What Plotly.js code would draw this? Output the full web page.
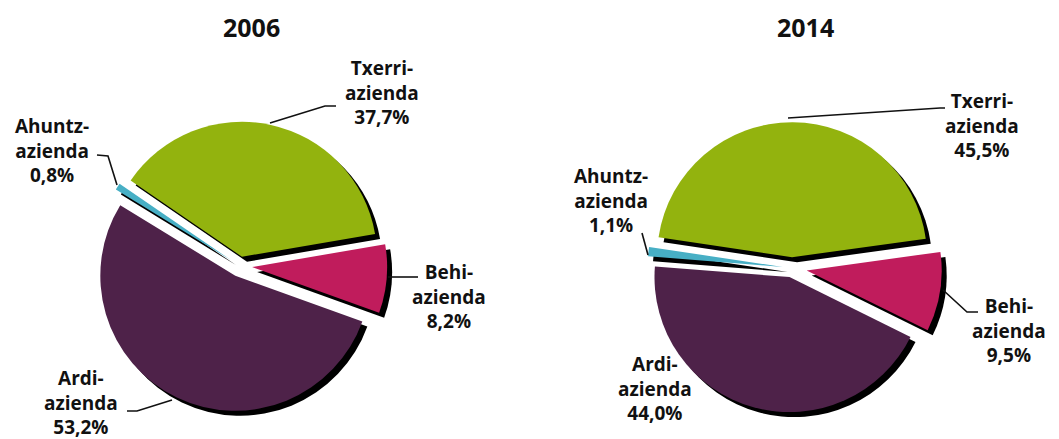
<!DOCTYPE html>
<html>
<head>
<meta charset="utf-8">
<script src="https://cdn.plot.ly/plotly-3.0.1.min.js"></script>
<style>html,body{margin:0;padding:0;background:#fff;}#chart{width:1059px;height:439px;}</style>
</head>
<body>
<div id="chart"></div>
<script>
// ---- data ----
const years = ["2006", "2014"];
const categories = ["Txerri-azienda", "Behi-azienda", "Ardi-azienda", "Ahuntz-azienda"];
const values2006 = [37.7, 8.2, 53.2, 0.8];
const values2014 = [45.5, 9.5, 44.0, 1.1];

// ---- style ----
const W = 1059, H = 439;
const colors = ["#93B30E", "#C01C5C", "#4E2249", "#47AFC5"];
const FONT = {family: "Open Sans, Roboto, sans-serif", size: 19, color: "#111", weight: 700};

const pies = [
  {values: values2006, cx: 240, cy: 266, r: 135, rotation: -55.6, pull: [0.07, 0.09, 0.08, 0.08],
   title: {x: 251, y: 27},
   labels: [{x: 382, y: 92}, {x: 449, y: 296}, {x: 81, y: 402}, {x: 52, y: 150}]},
  {values: values2014, cx: 792, cy: 268, r: 135, rotation: -81.5, pull: [0.08, 0.11, 0.07, 0.07],
   title: {x: 805, y: 27},
   labels: [{x: 982, y: 126}, {x: 1009, y: 330}, {x: 655, y: 388}, {x: 611, y: 200}]}
];

// leader lines, pixel points (decoration)
const leaders = [
  [[270,123],[325,106],[336,106]],
  [[117,185],[108,156],[97,155]],
  [[388,277],[418,277]],
  [[172,400],[137,411],[127,411]],
  [[788,118],[940,108],[945,108]],
  [[648,255],[642,233]],
  [[943,290],[967,312],[978,312]]
];

const px = x => x / W;
const py = y => 1 - y / H;

function fmt(v) { return v.toFixed(1).replace('.', ',') + '%'; }

const traces = [];
const annotations = [];
const shapes = [];
const SH = {dx: 5, dy: 5};

pies.forEach((p, i) => {
  const maxPull = Math.max(...p.pull);
  const s = p.r * (1 + maxPull);
  const dom = (ox, oy) => ({
    x: [px(p.cx - s + ox), px(p.cx + s + ox)],
    y: [py(p.cy + s + oy), py(p.cy - s + oy)]
  });
  const base = {
    type: 'pie', labels: categories, values: p.values, sort: false,
    direction: 'clockwise', rotation: p.rotation, pull: p.pull,
    textinfo: 'none', hoverinfo: 'skip', showlegend: false
  };
  traces.push(Object.assign({}, base, {
    domain: dom(SH.dx, SH.dy),
    marker: {colors: categories.map(() => '#000'), line: {width: 0}}
  }));
  traces.push(Object.assign({}, base, {
    domain: dom(0, 0),
    marker: {colors: colors, line: {width: 0}}
  }));
  annotations.push({
    text: years[i], x: px(p.title.x), y: py(p.title.y), xref: 'paper', yref: 'paper',
    showarrow: false, xanchor: 'center', yanchor: 'middle',
    font: {family: FONT.family, size: 25, color: '#111', weight: 700}
  });
  categories.forEach((c, k) => {
    annotations.push({
      text: c.replace('-', '-<br>') + '<br>' + fmt(p.values[k]),
      x: px(p.labels[k].x), y: py(p.labels[k].y), xref: 'paper', yref: 'paper',
      showarrow: false, xanchor: 'center', yanchor: 'middle', align: 'center',
      font: FONT
    });
  });
});

leaders.forEach(pts => {
  const d = pts.map((q, j) => (j ? 'L' : 'M') + px(q[0]) + ',' + py(q[1])).join(' ');
  shapes.push({type: 'path', xref: 'paper', yref: 'paper', path: d,
    line: {color: '#111', width: 1.6}});
});

const layout = {
  width: W, height: H,
  margin: {l: 0, r: 0, t: 0, b: 0},
  paper_bgcolor: '#fff', plot_bgcolor: '#fff',
  annotations: annotations, shapes: shapes, showlegend: false
};

Plotly.newPlot('chart', traces, layout, {displayModeBar: false, staticPlot: true});
</script>
</body>
</html>
